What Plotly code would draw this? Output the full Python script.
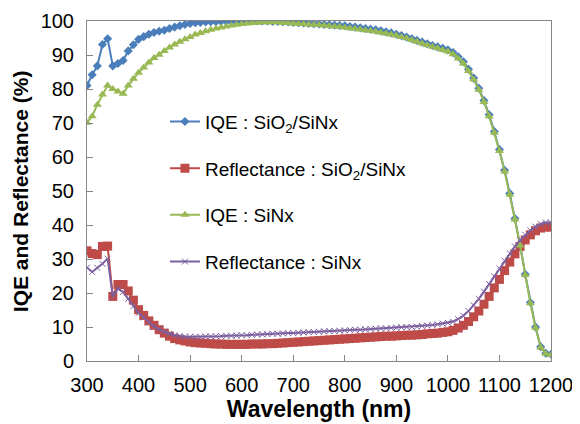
import plotly.graph_objects as go

wavelength = list(range(300, 1201, 10))

iqe_sio2_sinx = [81.0, 84.2, 86.8, 93.1, 94.8, 86.8, 87.5, 88.4, 91.2, 93.0,
                 94.6, 95.4, 96.1, 96.6, 97.0, 97.3, 97.8, 98.2, 98.6, 99.0,
                 99.3, 99.5, 99.6, 99.7, 99.8, 99.8, 99.9, 99.9, 99.9, 100.0,
                 100.0, 100.0, 100.0, 100.0, 100.0, 100.0, 99.9, 99.9, 99.8, 99.7,
                 99.6, 99.5, 99.4, 99.3, 99.2, 99.1, 99.0, 98.9, 98.8, 98.7,
                 98.6, 98.4, 98.2, 98.0, 97.8, 97.6, 97.4, 97.1, 96.8, 96.5,
                 96.1, 95.7, 95.3, 94.8, 94.3, 93.8, 93.3, 92.8, 92.4, 92.0,
                 91.5, 90.7, 89.5, 88.0, 85.8, 83.2, 80.2, 76.6, 72.4, 67.5,
                 62.2, 56.1, 49.3, 41.9, 34.2, 25.5, 17.2, 10.0, 4.2, 2.3,
                 2.0]

refl_sio2_sinx = [32.4, 31.6, 31.3, 33.7, 33.8, 19.0, 22.5, 22.5, 20.6, 17.9,
                  15.1, 13.4, 11.8, 10.5, 9.2, 8.2, 7.3, 6.6, 6.2, 5.9,
                  5.6, 5.4, 5.3, 5.2, 5.1, 5.0, 5.0, 4.9, 4.9, 4.9,
                  4.9, 4.9, 5.0, 5.0, 5.0, 5.1, 5.1, 5.2, 5.3, 5.4,
                  5.5, 5.6, 5.7, 5.8, 5.9, 6.0, 6.1, 6.2, 6.3, 6.4,
                  6.5, 6.6, 6.7, 6.8, 6.9, 7.0, 7.1, 7.2, 7.3, 7.3,
                  7.4, 7.5, 7.6, 7.6, 7.7, 7.8, 8.0, 8.1, 8.2, 8.4,
                  8.6, 9.0, 9.7, 10.5, 11.6, 13.0, 14.7, 16.7, 19.0, 21.5,
                  24.0, 26.6, 29.1, 31.5, 33.7, 35.6, 37.1, 38.3, 39.1, 39.4,
                  39.4]

iqe_sinx = [70.1, 72.0, 75.4, 78.4, 81.0, 80.0, 79.3, 78.6, 81.0, 83.0,
            84.8, 86.3, 87.8, 89.1, 90.1, 91.2, 92.2, 93.1, 93.9, 94.6,
            95.3, 96.0, 96.5, 97.0, 97.4, 97.8, 98.1, 98.4, 98.7, 98.9,
            99.1, 99.3, 99.4, 99.5, 99.6, 99.6, 99.6, 99.6, 99.5, 99.4,
            99.3, 99.2, 99.1, 99.0, 98.9, 98.8, 98.7, 98.5, 98.4, 98.3,
            98.1, 97.9, 97.7, 97.5, 97.3, 97.1, 96.9, 96.6, 96.3, 96.0,
            95.7, 95.3, 94.9, 94.4, 93.9, 93.4, 92.9, 92.4, 92.0, 91.5,
            91.0, 90.2, 89.0, 87.5, 85.3, 82.8, 79.8, 76.2, 72.0, 67.1,
            61.8, 55.7, 49.0, 41.6, 34.0, 25.3, 17.0, 9.8, 4.0, 2.1,
            1.8]

refl_sinx = [27.5, 26.2, 27.4, 28.6, 30.1, 19.0, 21.3, 20.3, 18.3, 16.1,
             14.1, 12.8, 11.4, 10.2, 9.3, 8.6, 8.0, 7.6, 7.3, 7.2,
             7.1, 7.1, 7.1, 7.2, 7.2, 7.3, 7.3, 7.4, 7.4, 7.5,
             7.6, 7.6, 7.7, 7.8, 7.8, 7.9, 8.0, 8.0, 8.1, 8.2,
             8.2, 8.3, 8.4, 8.5, 8.5, 8.6, 8.7, 8.8, 8.8, 8.9,
             9.0, 9.1, 9.2, 9.2, 9.3, 9.4, 9.5, 9.6, 9.6, 9.7,
             9.8, 9.9, 10.0, 10.0, 10.1, 10.3, 10.4, 10.6, 10.8, 11.0,
             11.2, 11.6, 12.3, 13.3, 14.7, 16.4, 18.3, 20.4, 22.6, 24.9,
             27.2, 29.5, 31.7, 33.7, 35.5, 37.1, 38.4, 39.5, 40.3, 40.7,
             40.7]

x_ticks = list(range(300, 1201, 100))
y_ticks = list(range(0, 101, 10))

FONT = "Liberation Sans, Arial, sans-serif"

fig = go.Figure()
fig.add_trace(go.Scatter(
    x=wavelength, y=iqe_sio2_sinx, mode="lines+markers",
    name="IQE : SiO<sub>2</sub>/SiNx", legendgroup="a",
    line=dict(color="#4A7EBB", width=2),
    marker=dict(symbol="diamond", size=7, color="#4A7EBB")))
fig.add_trace(go.Scatter(
    x=wavelength, y=refl_sio2_sinx, mode="lines+markers",
    name="Reflectance : SiO<sub>2</sub>/SiNx", legendgroup="b",
    line=dict(color="#BE4B48", width=2),
    marker=dict(symbol="square", size=9, color="#BE4B48")))
fig.add_trace(go.Scatter(
    x=wavelength, y=iqe_sinx, mode="lines+markers",
    name="IQE : SiNx", legendgroup="c",
    line=dict(color="#98B954", width=2),
    marker=dict(symbol="triangle-up", size=8, color="#98B954")))
fig.add_trace(go.Scatter(
    x=wavelength, y=refl_sinx, mode="lines+markers",
    name="Reflectance : SiNx", legendgroup="d",
    line=dict(color="#7D60A0", width=2),
    marker=dict(symbol="x-thin", size=6, color="#7D60A0",
                line=dict(color="#7D60A0", width=1))))

axis_common = dict(
    showgrid=False, zeroline=False, showline=True, mirror=True,
    linecolor="#868686", linewidth=1, ticks="inside", ticklen=6,
    tickcolor="#868686", tickfont=dict(family=FONT, size=20, color="#000"),
    automargin=False,
)

fig.update_xaxes(
    range=[300, 1200], tickvals=x_ticks, ticklabelstandoff=6,
    title=dict(text="<b>Wavelength (nm)</b>", font=dict(family=FONT, size=23, color="#000"), standoff=2),
    **axis_common)
fig.update_yaxes(
    range=[0, 100], tickvals=y_ticks, ticklabelstandoff=8,
    **axis_common)

fig.add_annotation(
    text="<b>IQE and Reflectance (%)</b>", textangle=-90,
    xref="paper", yref="paper", x=-0.144, y=0.5,
    xanchor="center", yanchor="middle", showarrow=False,
    font=dict(family=FONT, size=21, color="#000"))

# the page body adds an 8px offset, so the figure is sized to fit the window
fig.update_layout(
    width=572, height=416,
    margin=dict(l=79, r=29, t=13, b=63),
    paper_bgcolor="white", plot_bgcolor="white",
    legend=dict(x=0.168, y=0.76, xanchor="left", yanchor="top",
                font=dict(family=FONT, size=19, color="#000"),
                bgcolor="rgba(0,0,0,0)", tracegroupgap=19, itemwidth=30),
)

fig.write_html("out.html")
